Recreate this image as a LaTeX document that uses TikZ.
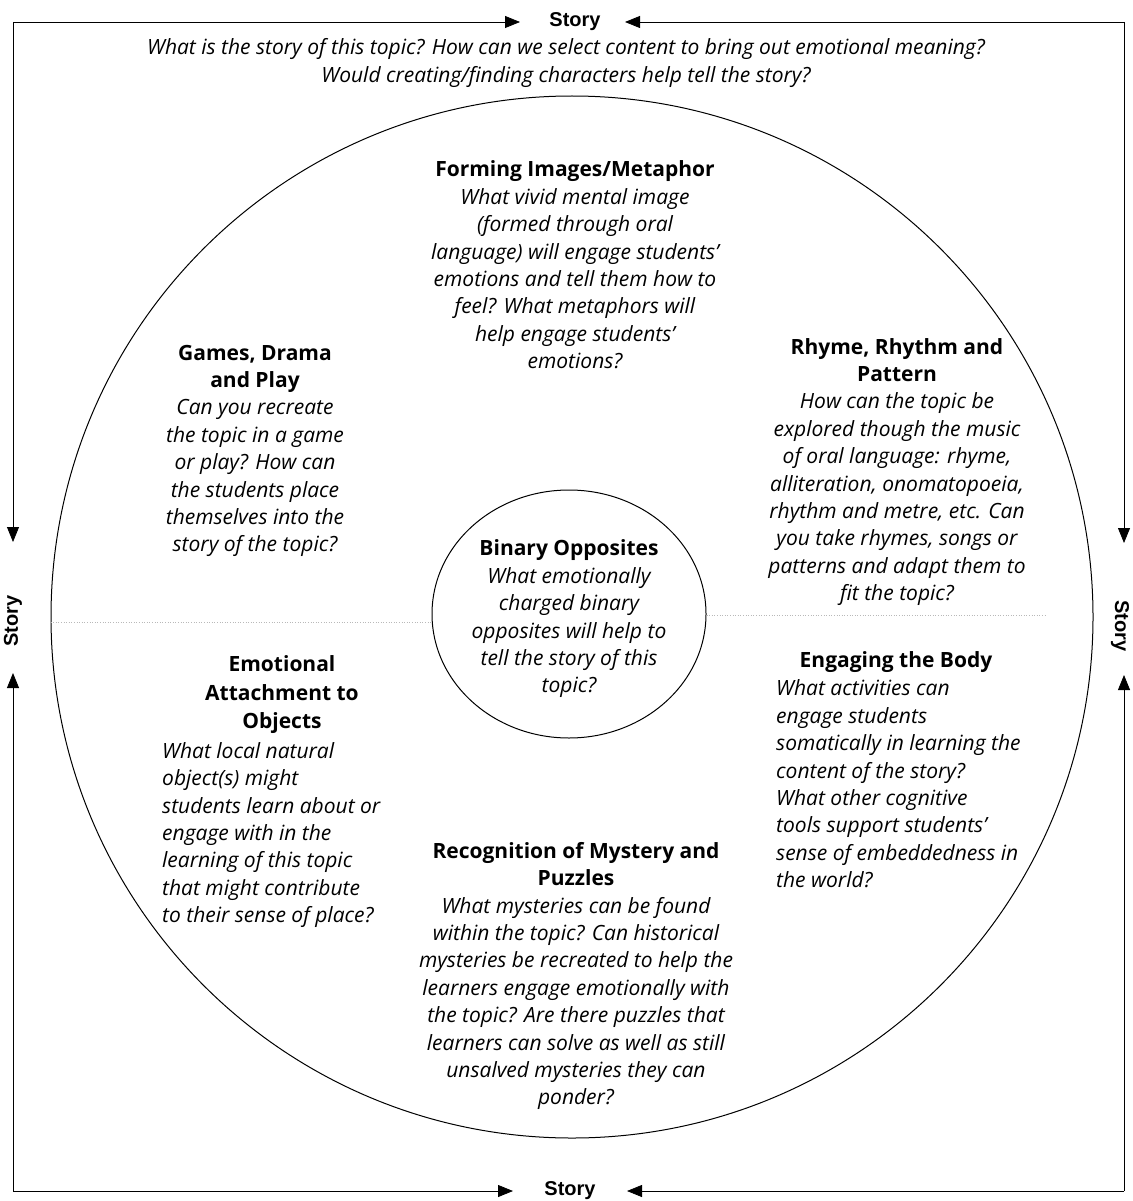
\documentclass[tikz,border=0pt]{standalone}
\usepackage{fontspec}
\setmainfont{Open Sans}
\newfontfamily\storyfont{Liberation Sans}
\usetikzlibrary{arrows.meta,shapes.geometric}
\newcommand\tightlines{\lineskiplimit=-30pt\relax\lineskip=0pt\relax}
\begin{document}
\begin{tikzpicture}[x=1pt,y=-1pt,
  frame/.style={line width=0.8pt},
  tip/.style={-{Triangle[length=15pt,width=12pt]}},
  storylbl/.style={font=\storyfont\bfseries\fontsize{20}{22}\selectfont, inner sep=0pt},
  txt/.style={font=\fontsize{21}{27.4}\selectfont\tightlines\itshape, align=center, inner sep=0pt},
  txtl/.style={font=\fontsize{21}{27.4}\selectfont\tightlines\itshape, align=left, inner sep=0pt},
  hd/.style={font=\fontsize{21}{28.5}\selectfont\tightlines\bfseries, align=center, inner sep=0pt},
  ring/.style={line width=1pt},
  divider/.style={gray!55, line width=0.6pt, dotted}
]
\useasboundingbox (0,0) rectangle (1132,1201);

% corners of the frame
\coordinate (tl) at (13,22);
\coordinate (tr) at (1124,22);
\coordinate (bl) at (13,1191);
\coordinate (br) at (1124,1191);

% Story labels
\node[storylbl] (stop) at (575,22) {Story};
\node[storylbl] (sbot) at (570,1191) {Story};
\node[storylbl, rotate=90] (sleft) at (13,621) {Story};
\node[storylbl, rotate=-90] (sright) at (1120,626) {Story};

% arrows
\coordinate (ttipL) at (520,22);
\coordinate (ttipR) at (625,22);
\coordinate (btipL) at (513,1191);
\coordinate (btipR) at (627,1191);
\coordinate (ltipT) at (13,542);
\coordinate (ltipB) at (13,673);
\coordinate (rtipT) at (1124,543);
\coordinate (rtipB) at (1124,675);

\draw[frame,tip] (tl) -- (ttipL);
\draw[frame,tip] (tr) -- (ttipR);
\draw[frame,tip] (bl) -- (btipL);
\draw[frame,tip] (br) -- (btipR);
\draw[frame,tip] (tl) -- (ltipT);
\draw[frame,tip] (bl) -- (ltipB);
\draw[frame,tip] (tr) -- (rtipT);
\draw[frame,tip] (br) -- (rtipB);

% circles
\node[ring, draw, circle, minimum size=1042pt, inner sep=0pt] (big) at (572,617) {};
\node[ring, draw, ellipse, minimum width=274pt, minimum height=248pt, inner sep=0pt] (inner) at (569,614) {};

% faint dividers
\draw[divider] (big.west |- 0,622) -- (inner.west |- 0,622);
\draw[divider] (inner.east |- 0,615) -- (1045,615);

% top caption
\node[txt] (cap) at (566,63) {What is the story of this topic? How can we select content to bring out emotional meaning?\\Would creating/finding characters help tell the story?};

% Forming Images
\node[txt] (form) at (575,265) {{\upshape\bfseries Forming Images/Metaphor}\\What vivid mental image\\(formed through oral\\language) will engage students'\\emotions and tell them how to\\feel? What metaphors will\\help engage students'\\emotions?};

% Games
\node[txt] (games) at (255,451) {{\upshape\bfseries Games, Drama}\\{\upshape\bfseries and Play}\\Can you recreate\\the topic in a game\\or play? How can\\the students place\\themselves into the\\story of the topic?};

% Rhyme
\node[txt] (rhyme) at (897,472) {{\upshape\bfseries Rhyme, Rhythm and}\\{\upshape\bfseries Pattern}\\How can the topic be\\explored though the music\\of oral language: rhyme,\\alliteration, onomatopoeia,\\rhythm and metre, etc. Can\\you take rhymes, songs or\\patterns and adapt them to\\fit the topic?};

% Binary
\node[txt] (binary) at (569,619) {{\upshape\bfseries Binary Opposites}\\What emotionally\\charged binary\\opposites will help to\\tell the story of this\\topic?};

% Emotional attachment
\node[hd] (emoh) at (282,695) {Emotional\\Attachment to\\Objects};
\node[txtl, anchor=west] (emob) at (162,835) {What local natural\\object(s) might\\students learn about or\\engage with in the\\learning of this topic\\that might contribute\\to their sense of place?};

% Engaging the body
\node[hd] (bodyh) at (896,662) {Engaging the Body};
\node[txtl, anchor=west] (bodyb) at (776,784) {What activities can\\engage students\\somatically in learning the\\content of the story?\\What other cognitive\\tools support students'\\sense of embeddedness in\\the world?};

% Mystery
\node[txt] (myst) at (576,976) {{\upshape\bfseries Recognition of Mystery and}\\{\upshape\bfseries Puzzles}\\What mysteries can be found\\within the topic? Can historical\\mysteries be recreated to help the\\learners engage emotionally with\\the topic? Are there puzzles that\\learners can solve as well as still\\unsalved mysteries they can\\ponder?};
\end{tikzpicture}
\end{document}
